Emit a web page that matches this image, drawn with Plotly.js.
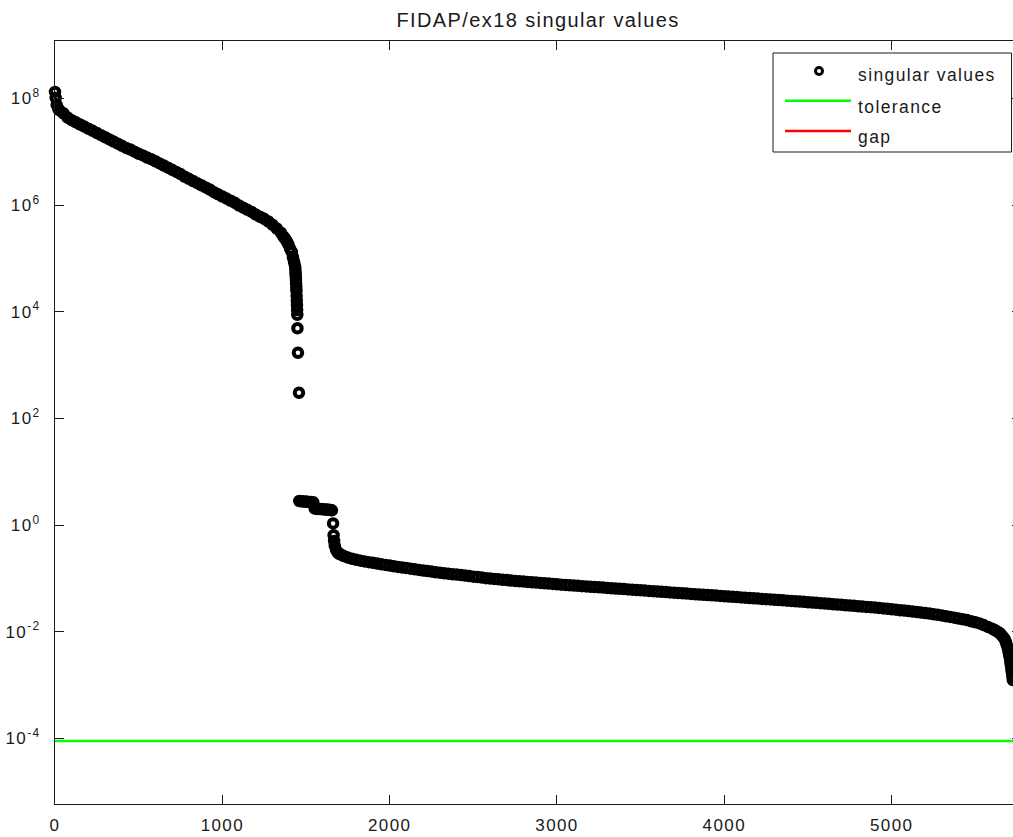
<!DOCTYPE html>
<html>
<head>
<meta charset="utf-8">
<title>FIDAP/ex18 singular values</title>
<script src="https://cdn.plot.ly/plotly-3.0.1.min.js"></script>
<style>
  html, body { margin: 0; padding: 0; overflow: hidden; background: #ffffff; }
  #chart { width: 1030px; height: 837px; }
  #chart svg text { letter-spacing: 1.4px; }
</style>
</head>
<body>
<div id="chart"></div>
<script>
// Singular value index (sampled along the spectrum)
const sigmaIndex = [
  0, 4, 10, 20, 25, 50, 75, 100, 125, 150, 175, 200, 225, 250, 275, 300, 325, 350, 375, 400,
  425, 450, 475, 500, 525, 550, 575, 600, 625, 650, 675, 700, 725, 750, 775, 800, 825, 850, 875, 900,
  925, 950, 975, 1000, 1025, 1050, 1075, 1100, 1125, 1150, 1175, 1200, 1225, 1250, 1275, 1300, 1325, 1350,
  1365, 1375, 1385, 1395, 1405, 1415, 1422, 1428, 1433, 1436, 1437, 1438, 1439, 1440, 1441, 1442, 1443,
  1444, 1445, 1446, 1447, 1448, 1449, 1452, 1458,
  1460, 1472, 1484, 1496, 1508, 1520, 1532, 1544,
  1552, 1564, 1576, 1588, 1600, 1612, 1624, 1636, 1648, 1655,
  1662, 1665, 1668, 1672, 1680, 1690, 1700, 1712,
  1725, 1750, 1775, 1800, 1825, 1850, 1875, 1900, 1925, 1950, 1975, 2000, 2025, 2050, 2075, 2100,
  2125, 2150, 2175, 2200, 2225, 2250, 2275, 2300, 2325, 2350, 2375, 2400, 2425, 2450, 2475, 2500,
  2525, 2550, 2575, 2600, 2625, 2650, 2675, 2700, 2725, 2750, 2775, 2800, 2825, 2850, 2875, 2900,
  2925, 2950, 2975, 3000, 3025, 3050, 3075, 3100, 3125, 3150, 3175, 3200, 3225, 3250, 3275, 3300,
  3325, 3350, 3375, 3400, 3425, 3450, 3475, 3500, 3525, 3550, 3575, 3600, 3625, 3650, 3675, 3700,
  3725, 3750, 3775, 3800, 3825, 3850, 3875, 3900, 3925, 3950, 3975, 4000, 4025, 4050, 4075, 4100,
  4125, 4150, 4175, 4200, 4225, 4250, 4275, 4300, 4325, 4350, 4375, 4400, 4425, 4450, 4475, 4500,
  4525, 4550, 4575, 4600, 4625, 4650, 4675, 4700, 4725, 4750, 4775, 4800, 4825, 4850, 4875, 4900,
  4925, 4950, 4975, 5000, 5025, 5050, 5075, 5100, 5125, 5150, 5175, 5200, 5225, 5250, 5275, 5300,
  5325, 5350, 5375, 5400, 5425, 5450, 5475, 5500, 5525, 5550, 5575, 5600, 5615, 5630, 5645, 5655,
  5665, 5675, 5682, 5688, 5694, 5698, 5702, 5706, 5709, 5712, 5715, 5718, 5721, 5724
];

// log10 of each singular value, same order as sigmaIndex
const sigmaLog10 = [
  8.12, 8.01, 7.88, 7.80, 7.78, 7.72, 7.64, 7.59, 7.55, 7.51, 7.47, 7.43, 7.39, 7.35, 7.31, 7.27, 7.23, 7.19, 7.15, 7.11,
  7.07, 7.04, 7.00, 6.96, 6.93, 6.89, 6.86, 6.82, 6.78, 6.74, 6.70, 6.66, 6.62, 6.58, 6.53, 6.49, 6.45, 6.41, 6.37, 6.33,
  6.29, 6.24, 6.20, 6.16, 6.12, 6.08, 6.04, 5.99, 5.95, 5.91, 5.87, 5.82, 5.78, 5.74, 5.69, 5.63, 5.56, 5.48,
  5.41, 5.37, 5.32, 5.26, 5.18, 5.12, 5.02, 4.94, 4.88, 4.82, 4.76, 4.71, 4.65, 4.59, 4.53, 4.46, 4.39,
  4.30, 4.21, 4.12, 4.03, 3.94, 3.69, 3.23, 2.48,
  0.450, 0.445, 0.440, 0.440, 0.435, 0.430, 0.430, 0.425,
  0.310, 0.305, 0.300, 0.300, 0.295, 0.290, 0.290, 0.285, 0.280, 0.275,
  0.03, -0.19, -0.30, -0.39, -0.47, -0.52, -0.544, -0.559,
  -0.581, -0.611, -0.634, -0.651, -0.668, -0.683, -0.696, -0.709, -0.722, -0.735, -0.748, -0.761, -0.773, -0.786, -0.797, -0.808,
  -0.819, -0.831, -0.842, -0.853, -0.863, -0.874, -0.885, -0.894, -0.904, -0.913, -0.923, -0.930, -0.939, -0.949, -0.958, -0.968,
  -0.977, -0.986, -0.996, -1.003, -1.011, -1.018, -1.026, -1.033, -1.041, -1.048, -1.056, -1.061, -1.067, -1.074, -1.080, -1.086,
  -1.093, -1.099, -1.104, -1.112, -1.118, -1.123, -1.129, -1.134, -1.140, -1.146, -1.151, -1.157, -1.163, -1.168, -1.174, -1.179,
  -1.185, -1.191, -1.196, -1.202, -1.208, -1.213, -1.219, -1.224, -1.230, -1.236, -1.241, -1.247, -1.253, -1.258, -1.264, -1.269,
  -1.275, -1.281, -1.286, -1.292, -1.298, -1.303, -1.309, -1.314, -1.318, -1.324, -1.329, -1.335, -1.341, -1.346, -1.352, -1.358,
  -1.363, -1.369, -1.374, -1.380, -1.386, -1.391, -1.395, -1.401, -1.406, -1.412, -1.418, -1.423, -1.429, -1.434, -1.440, -1.448,
  -1.453, -1.459, -1.466, -1.472, -1.478, -1.485, -1.491, -1.496, -1.504, -1.509, -1.515, -1.523, -1.528, -1.536, -1.541, -1.549,
  -1.554, -1.564, -1.571, -1.581, -1.588, -1.598, -1.605, -1.614, -1.622, -1.631, -1.641, -1.652, -1.661, -1.673, -1.682, -1.695,
  -1.710, -1.723, -1.738, -1.753, -1.768, -1.781, -1.804, -1.824, -1.845, -1.877, -1.911, -1.944, -1.969, -1.997, -2.023, -2.059,
  -2.096, -2.134, -2.194, -2.250, -2.306, -2.368, -2.432, -2.494, -2.560, -2.625, -2.691, -2.756, -2.831, -2.906
];

const matrixSize = 5773;          // FIDAP/ex18 is 5773 x 5773
const tolerance = 8.9e-5;         // rank-revealing tolerance
const toleranceX = [0, matrixSize];

const xTickVals = [0, 1000, 2000, 3000, 4000, 5000];
const yTickVals = [1e-4, 1e-2, 1, 1e2, 1e4, 1e6, 1e8];
const yTickText = ['10<sup>-4</sup>', '10<sup>-2</sup>', '10<sup>0</sup>', '10<sup>2</sup>',
                   '10<sup>4</sup>', '10<sup>6</sup>', '10<sup>8</sup>'];
const legendLabels = ['singular values', 'tolerance', 'gap'];
const legendColors = ['#000000', '#00ff00', '#ff0000'];

const sigmaValues = sigmaLog10.map(e => Math.pow(10, e));
const toleranceY = toleranceX.map(() => tolerance);

const FONT = '"Liberation Sans", Arial, Helvetica, sans-serif';
const INK = '#1a1a1a';

// pixel helpers for the hand-built legend (plot area spans x 55..1021, y 41..804)
const PL = 55, PR = 1021, PT = 41, PB = 804;
const fx = px => (px - PL) / (PR - PL);
const fy = py => (PB - py) / (PB - PT);

const traces = [
  {
    type: 'scatter', mode: 'markers', name: legendLabels[0],
    x: sigmaIndex, y: sigmaValues,
    marker: { symbol: 'circle-open', size: 8.5, color: '#000000', line: { width: 4, color: '#000000' } },
    cliponaxis: false, showlegend: false, hoverinfo: 'skip'
  },
  {
    type: 'scatter', mode: 'lines', name: legendLabels[1],
    x: toleranceX, y: toleranceY,
    line: { color: legendColors[1], width: 2.5 },
    showlegend: false, hoverinfo: 'skip'
  }
];

const legendRows = [74.7, 106.7, 137.2];
const shapes = [
  { type: 'rect', xref: 'paper', yref: 'paper', x0: fx(773), x1: fx(1011.5), y0: fy(152), y1: fy(53),
    line: { color: INK, width: 1 }, fillcolor: '#ffffff', layer: 'above' },
  { type: 'circle', xref: 'paper', yref: 'paper', xsizemode: 'pixel', ysizemode: 'pixel',
    xanchor: fx(819), yanchor: fy(71), x0: -3.5, x1: 3.5, y0: -3.5, y1: 3.5,
    line: { color: legendColors[0], width: 3 }, layer: 'above' },
  { type: 'line', xref: 'paper', yref: 'paper', x0: fx(785), x1: fx(851), y0: fy(100.7), y1: fy(100.7),
    line: { color: legendColors[1], width: 2.5 }, layer: 'above' },
  { type: 'line', xref: 'paper', yref: 'paper', x0: fx(785), x1: fx(851), y0: fy(131), y1: fy(131),
    line: { color: legendColors[2], width: 2.5 }, layer: 'above' }
];

const annotations = legendLabels.map((label, i) => ({
  text: label, xref: 'paper', yref: 'paper', x: fx(856), y: fy(legendRows[i]),
  xanchor: 'left', yanchor: 'middle', align: 'left', showarrow: false,
  font: { family: FONT, size: 17.5, color: INK }
}));

const layout = {
  width: 1030, height: 837,
  margin: { l: PL, r: 1030 - PR, t: PT, b: 837 - PB, pad: 0 },
  paper_bgcolor: '#ffffff', plot_bgcolor: '#ffffff',
  showlegend: false,
  title: {
    text: 'FIDAP/ex18 singular values',
    xref: 'paper', x: 0.5, xanchor: 'center',
    yref: 'container', y: 1 - 19.5 / 837, yanchor: 'middle',
    font: { family: FONT, size: 20, color: INK }
  },
  xaxis: {
    range: [0, matrixSize], tickmode: 'array', tickvals: xTickVals,
    ticks: 'inside', ticklen: 9, tickwidth: 1, tickcolor: INK,
    showline: true, linecolor: INK, linewidth: 1, mirror: 'ticks',
    showgrid: false, zeroline: false, ticklabelstandoff: 6,
    tickfont: { family: FONT, size: 17, color: INK }
  },
  yaxis: {
    type: 'log', range: [-5.231, 9.075], tickmode: 'array', tickvals: yTickVals, ticktext: yTickText,
    ticks: 'inside', ticklen: 9, tickwidth: 1, tickcolor: INK,
    showline: true, linecolor: INK, linewidth: 1, mirror: 'ticks',
    showgrid: false, zeroline: false, ticklabelstandoff: 10,
    tickfont: { family: FONT, size: 17, color: INK }
  },
  shapes: shapes,
  annotations: annotations
};

Plotly.newPlot('chart', traces, layout, { staticPlot: true, displayModeBar: false });
</script>
</body>
</html>
